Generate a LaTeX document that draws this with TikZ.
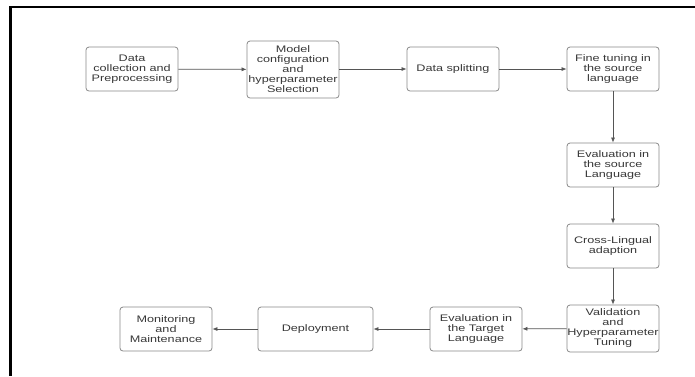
\documentclass[tikz,border=0pt]{standalone}
\usepackage{fontspec}
\setmainfont{Liberation Sans}[FakeStretch=1.33]
\usetikzlibrary{arrows.meta}
\definecolor{boxline}{HTML}{8A8A8A}
\definecolor{arrowline}{HTML}{555555}
\definecolor{txt}{HTML}{383838}
\begin{document}
\begin{tikzpicture}[x=1pt,y=-1pt,
  stepbox/.style={draw=boxline,line width=0.8pt,rounded corners=3pt,
    minimum width=92pt,minimum height=44pt,inner sep=0pt,align=center,
    text=txt,font=\fontsize{9.5pt}{10pt}\selectfont},
  flow/.style={draw=arrowline,line width=0.7pt,-{Latex[length=5pt,width=4pt]}}]
\useasboundingbox (0,0) rectangle (695,376);
\fill[white] (0,0) rectangle (695,376);
\draw[line width=2pt] (10,7) -- (695,7);
\draw[line width=3pt] (10,6) -- (10,376);

\node[stepbox] (b1) at (132,69) {Data\\collection and\\Preprocessing};
\node[stepbox,minimum height=57pt] (b2) at (293,69.5) {Model\\configuration\\and\\hyperparameter\\Selection};
\node[stepbox] (b3) at (453,69) {Data splitting};
\node[stepbox] (b4) at (613,69) {Fine tuning in\\the source\\language};
\node[stepbox] (b5) at (613,165) {Evaluation in\\the source\\Language};
\node[stepbox] (b6) at (613,246) {Cross-Lingual\\adaption};
\node[stepbox,minimum height=47pt] (b7) at (613,328.5) {Validation\\and\\Hyperparameter\\Tuning};
\node[stepbox] (b8) at (476,329) {Evaluation in\\the Target\\Language};
\node[stepbox,minimum width=115pt] (b10) at (315.5,329) {Deployment};
\node[stepbox] (b9) at (166,329) {Monitoring\\and\\Maintenance};

\draw[flow] (b1) -- (b2);
\draw[flow] (b2.east |- b1.east) -- (b3);
\draw[flow] (b3) -- (b4);
\draw[flow] (b4) -- (b5);
\draw[flow] (b5) -- (b6);
\draw[flow] (b6) -- (b7);
\draw[flow] (b7) -- (b8);
\draw[flow] (b8) -- (b10);
\draw[flow] (b10) -- (b9);
\end{tikzpicture}
\end{document}
